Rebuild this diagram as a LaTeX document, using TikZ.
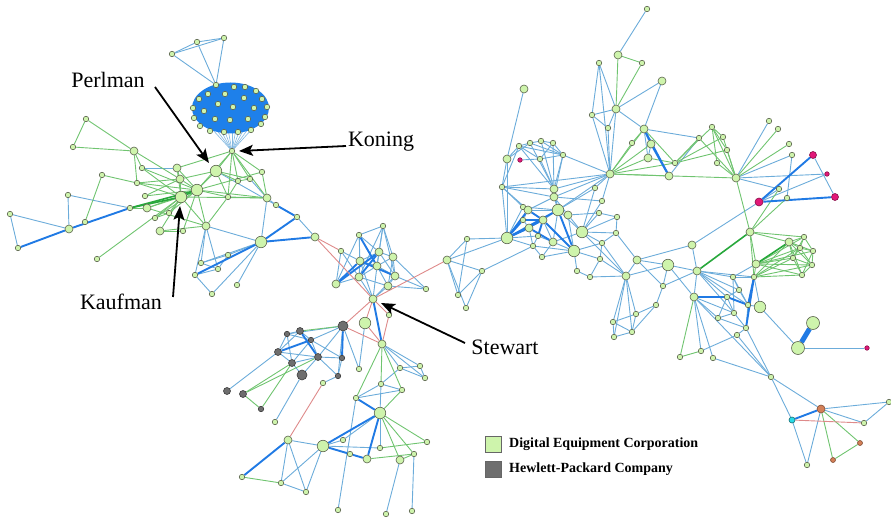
\documentclass[tikz,border=0pt]{standalone}
\usepackage{fontspec}
\setmainfont{Liberation Serif}
\usetikzlibrary{arrows.meta}
\pgfdeclarelayer{edges}
\pgfsetlayers{edges,main}
\definecolor{nodefill}{RGB}{206,244,172}
\definecolor{nodeline}{RGB}{92,100,78}
\definecolor{eblue}{RGB}{108,172,218}
\definecolor{dblue}{RGB}{32,122,228}
\definecolor{blobc}{RGB}{30,128,234}
\definecolor{egreen}{RGB}{112,196,112}
\definecolor{dgreen}{RGB}{40,168,60}
\definecolor{ered}{RGB}{222,138,138}
\definecolor{hpgray}{RGB}{110,110,110}
\definecolor{hpline}{RGB}{60,60,60}
\definecolor{mag}{RGB}{226,24,120}
\definecolor{orng}{RGB}{212,128,88}
\definecolor{cyn}{RGB}{40,220,232}
\begin{document}
\begin{tikzpicture}[x=1pt,y=-1pt,
  vx/.style={circle,draw=nodeline,fill=nodefill,line width=0.6pt,inner sep=0pt,minimum size=5.5pt},
  vm/.style={vx,minimum size=8pt},
  vl/.style={vx,minimum size=11.5pt},
  hpv/.style={fill=hpgray,draw=hpline},
  mgv/.style={fill=mag,draw=mag!60!black},
  orv/.style={fill=orng,draw=orng!60!black},
  cyv/.style={fill=cyn,draw=cyn!50!black},
  eb/.style={draw=eblue,line width=0.9pt},
  ebt/.style={draw=dblue,line width=1.9pt},
  eg/.style={draw=egreen,line width=0.9pt},
  egt/.style={draw=dgreen,line width=1.6pt},
  er/.style={draw=ered,line width=0.9pt},
  fanline/.style={draw=eblue!85!white,line width=0.6pt},
  lbl/.style={font=\fontsize{22}{26}\selectfont,inner sep=0pt},
  pointer/.style={draw=black,line width=1.8pt,-{Stealth[length=14pt,width=11pt,inset=3pt]}},
  legsq/.style={draw=black!60,line width=0.8pt,minimum size=16pt,inner sep=0pt},
  legtxt/.style={font=\bfseries\fontsize{14}{16}\selectfont,anchor=west,inner sep=0pt}
]
\useasboundingbox (0,0) rectangle (891,518);

% ---------- vertices ----------
\foreach \n/\x/\y in {
 t1/172/54, t2/197/42, t3/224/38, t4/216/85,
 b1/234/87, b2/245/87, b3/256/91, b4/262/99, b5/267/107, b6/265/117, b7/261/124,
 b8/251/130, b9/238/132, b10/224/132, b11/210/131, b12/200/126, b13/194/118,
 b14/193/108, b15/199/99, b16/208/94, b17/225/94, b18/204/111, b19/218/104,
 b20/233/107, b21/244/98, b22/254/108, b23/248/119, b24/230/120, b25/215/119,
 kn/232/151,
 a1/86/119, a2/73/147, a4/142/168, a7/262/172, a8/250/179, a9/238/181, a10/102/175,
 a11/137/183, a15/228/197, a17/276/205, a18/68/195, a19/130/208, a21/169/213,
 a22/155/218, a23/10/214, a24/85/222, a28/183/231, a29/297/217, a32/18/248,
 a33/97/259, a34/228/255, a35/201/263, a36/218/269, a37/195/275, a38/237/285,
 a39/212/294, a40/145/196,
 m3/341/251, m4/359/235, m5/383/226, m14/426/289, m17/467/239, m18/458/295,
 m19/466/308, m20/389/315,
 l1/359/369, l2/323/383, l3/275/422, l4/400/368, l5/420/366, l6/425/378, l7/381/384,
 l8/402/390, l9/356/398, l13/343/440, l14/350/454, l16/380/448, l18/414/454,
 l19/427/442, l20/242/477, l21/281/483, l22/306/492, l23/338/510, l24/386/514, l25/412/511,
 r2/599/63, r4/592/115, r5/608/128, r6/632/143,
 p1/519/146, p2/530/143, p3/541/141, p4/553/143, p5/563/155, p6/540/159,
 q1/502/187, q4/595/188, q5/602/201, q6/523/207, q10/599/213, q11/523/220,
 q17/538/236, q18/533/246, q20/617/217, q21/616/233, q22/602/243, q23/482/271,
 q24/542/257, q25/577/271, q26/600/259, q27/590/277,
 u1/647/9, u3/642/63, u9/675/163, u10/699/138, u11/712/127, u12/723/137, u13/727/150,
 u14/717/163, u16/769/121, u17/778/129, u18/789/144, u19/792/155, u24/779/189, u25/787/198,
 v3/804/237, v4/800/248, v5/813/251, v6/793/258, v7/812/265, v8/802/275, v10/754/277,
 w4/663/286, w5/656/305, w8/636/314, w9/613/322, w10/614/337, w11/632/332,
 w13/733/277, w14/739/290, w15/727/297, w16/748/305, w18/734/313, w19/718/318,
 w20/746/328, w21/737/335, w22/701/351, w23/680/357, w24/713/358, w25/771/377,
 x3/864/423, x4/889/402, x7/807/465}
 \node[vx] (\n) at (\x,\y) {};

\foreach \n/\x/\y in {
 a3/134/151, a5/177/168, a12/180/179, a16/267/198, a20/147/208, a25/69/229,
 a26/206/226, a27/160/231, a30/315/237,
 m6/379/252, m7/393/257, m8/360/261, m9/377/266, m10/359/277, m11/336/284,
 m12/395/276, m13/388/286, st/373/299, m16/447/260, m22/382/344,
 l11/288/440, l15/367/459, l17/400/460,
 r1/524/89, r3/616/109, r7/610/174, p7/507/159,
 q2/554/189, q3/554/197, q7/528/210, q9/568/215, q12/529/228, q13/543/220, q16/553/242,
 u2/618/55, u4/662/81, u5/644/129, u6/651/144, u7/648/158, u8/669/176, u15/736/178,
 v1/750/232, v2/789/242, v9/756/264,
 w1/692/245, w2/697/271, w6/637/260, w7/626/276, w12/694/297}
 \node[vm] (\n) at (\x,\y) {};

\foreach \n/\x/\y in {
 a6/216/171, a13/197/190, a14/181/197, a31/261/242, m21/365/323, l10/380/413,
 l12/323/446, q8/558/210, q14/507/238, q15/582/232, q19/574/251, w3/668/265, w17/760/307}
 \node[vl] (\n) at (\x,\y) {};
\node[vl,minimum size=13pt] (w26) at (813,323) {};
\node[vl,minimum size=13pt] (w27) at (798,348) {};

% Hewlett-Packard vertices
\node[vm,hpv,minimum size=10pt] (h1) at (343,326) {};
\node[vm,hpv,minimum size=10pt] (h9) at (302,375) {};
\foreach \n/\x/\y in {h2/300/331, h5/278/352, h6/318/357, h8/292/363, h11/227/391, h12/243/394}
 \node[vm,hpv,minimum size=7pt] (\n) at (\x,\y) {};
\foreach \n/\x/\y in {h3/287/334, h4/311/340, h7/342/358, h10/338/376, h13/261/409}
 \node[vx,hpv] (\n) at (\x,\y) {};

% other affiliations
\node[vx,mgv,minimum size=4.5pt] (pm) at (520,160) {};
\node[vx,mgv,minimum size=7pt] (u20) at (813,155) {};
\node[vx,mgv,minimum size=4.5pt] (u21) at (827,174) {};
\node[vx,mgv,minimum size=7pt] (u22) at (835,197) {};
\node[vx,mgv,minimum size=8pt] (u23) at (759,202) {};
\node[vx,mgv,minimum size=4.5pt] (w28) at (867,348) {};
\node[vx,orv,minimum size=8pt] (x1) at (821,409) {};
\node[vx,orv,minimum size=5pt] (x5) at (860,443) {};
\node[vx,orv,minimum size=5pt] (x6) at (833,460) {};
\node[vx,cyv,minimum size=6pt] (x2) at (792,420) {};

% ---------- ties ----------
\begin{pgfonlayer}{edges}
\foreach \fx in {202,208,...,262} \draw[fanline] (kn) -- (\fx,118);
\fill[blobc] (230.5,108) ellipse [x radius=38.5, y radius=25.5];

\foreach \a/\b in {
 t1/t2, t1/t3, t2/t3, t1/t4, t2/t4, t3/t4,
 a23/a32, a23/a25, a18/a25, a18/a19, a4/a5, a16/a17, a29/a30, a16/a31, a26/a31,
 a26/a37, a26/a35, a26/a36, a31/a34, a31/a35, a31/a38, a31/a39, a35/a36, a37/a36,
 a34/a35, a8/a16, a6/a17, a37/a39, a36/a34,
 m4/m10, m4/m8, m4/m6, m4/m5, m5/m6, m5/m7, m5/m9, m5/m12, m5/m10, m6/m7, m6/m8,
 m6/m9, m6/m12, m7/m9, m7/m12, m7/m13, m8/m9, m8/m10, m9/m10, m9/m12, m9/m13,
 m10/m13, m12/m13, m11/m10, m11/m3, m14/m12, m14/m13, m14/m7, m16/m17, m16/m18,
 m16/m19, m17/m18, st/m10, st/m9, st/m13, st/m8, st/m12, m3/m8, m16/q23, m18/q23,
 m19/q23, m16/q14, m17/q14, m11/m4, m3/m10,
 h1/h4, h1/h6, h1/h10, h1/h3, h2/h3, h2/h4, h2/h5, h3/h5, h3/h4, h4/h6, h4/h7,
 h4/h8, h5/h6, h5/h8, h6/h7, h6/h8, h6/h10, h7/h10, h8/h9, h9/h6, h11/h5, h9/l3,
 l1/h1, l1/m21, h3/h8, l2/h10,
 m22/l4, m22/l5, m22/l6, l4/l5, l4/l6, l5/l6, l7/l4, l7/l8, l9/l7, l9/l8, l10/l13,
 l10/l16, l12/l13, l12/l16, l11/l12, l11/l21, l11/l22, l21/l22, l12/l22, l12/l21,
 l9/l23, l17/l24, l18/l25, l10/l7,
 q14/q1, q14/p7, q1/p7, q1/p1, p7/r1, p7/p1, p7/p2, p1/p2, p2/p3, p3/p4, p4/p5,
 p1/p5, p2/p5, p3/p5, p6/p5, p1/p6, pm/p6, p6/p4, p1/q2, p2/q2, p3/q2, p4/q2,
 p5/q2, p5/q3, p6/q2, q1/q2, q1/q6, q1/q7, q1/q3, r7/q2, r7/q1, r7/q3, r7/q4,
 r7/q5, r7/q8, r7/p5, r7/r4, r7/r2, r2/r4, r2/r3, r4/r5, r3/r5, r5/r7, q2/q3,
 q3/q8, q3/q7, q6/q7, q7/q8, q8/q9, q9/q10, q8/q13, q7/q11, q11/q12, q12/q13,
 q8/q15, q9/q15, q15/q10, q15/q20, q15/q21, q15/q16, q16/q19, q17/q18, q18/q19,
 q13/q16, q12/q18, q16/q17, q19/q25, q19/q24, q19/q26, q19/q22, q14/q18, q24/q18,
 q15/q5, q15/q4, q8/q4, q3/q5, q10/q20, q21/q22, q22/q26, q26/q27, q25/q27,
 q20/q21, q9/q19, q16/q8, q23/q18, q14/q6, q6/q8, q2/q8, q3/q9, q14/q17, q24/q16,
 q15/q22,
 q15/w7, q21/w6, q22/w7, q26/w7, q27/w7, w6/w7,
 u1/u2, r4/r3, r3/r7, u4/r3, u4/u5, r3/u5, u5/u10, u10/u8, u15/u16, u15/u19,
 u15/u24, u15/u21, u19/u25, u23/u21, u23/u24, u20/u22, u23/w1, u5/u7, u6/u7,
 w1/w2, w1/w6, w6/w3, w7/w3, w7/w8, w7/w9, w7/w10, w7/w11, w8/w9, w9/w10, w10/w11,
 w8/w11, w9/w11, w3/w2, w3/w4, w4/w5, w5/w8, w5/w11, w2/w12, w2/w13, w2/w15,
 w2/w14, w2/w18, w2/w16, w12/w18, w12/w19, w12/w22, w12/w24, w13/w14, w13/w18,
 w14/w15, w14/w16, w15/w18, w15/w19, w16/w17, w16/w20, w18/w19, w19/w20, w18/w20,
 w13/w16, w21/w20, w21/w22, w17/w27, w20/w25, w21/w25, w24/w25, w25/x2, w25/x1,
 w27/w28, x1/x3, x1/x4, x3/x4, x2/x7, x1/x7, v10/w13, v9/w13, v10/w17, w2/w4,
 w12/w25, w6/w4, w3/w12, w2/v10}
 \draw[eb] (\a) -- (\b);

\foreach \a/\b in {
 a1/a2, a1/a3, a2/a3, a3/a4, a3/a12, a10/a11, a10/a24, a11/a13, a11/a14, a11/a12,
 a12/a13, a12/a14, a5/a14, a5/a13, a5/kn, a6/kn, a13/kn, a15/kn, a9/kn, a8/kn,
 a7/kn, a16/kn, a6/a13, a6/a15, a13/a7, a13/a16, a13/a15, a14/a16, a14/a26,
 a13/a26, a19/a20, a20/a14, a20/a13, a21/a13, a21/a14, a22/a14, a27/a14,
 a27/a26, a27/a28, a33/a14, a20/a26, a22/a21, a4/a14, a4/a13, a7/a16, a8/a9,
 a9/a15, a15/a16, a3/a11, a40/a13, a40/a12, a6/a12, a6/a9, a12/a5, a6/a8,
 a22/a13, a28/a13, a15/a26,
 h12/h6, h12/h8, h13/h8, h12/h13, h2/h1,
 m22/l7, m22/l8, m22/l9, l10/l8, l10/l17, l10/l18, l10/l19, l15/l18, l16/l19,
 l17/l18, l20/l21,
 u2/u3, u2/r3, u3/r3, r6/u5, r6/r7, u7/r7, u8/r7, u9/r7, u6/r7, u5/r7, u9/u10,
 u9/u11, u9/u13, u9/u12, u10/u15, u11/u15, u12/u15, u13/u15, u14/u15, u11/u12,
 u11/u13, u11/u14, r7/u15, u15/u17, u15/u18, u15/v1, v1/u24, v1/u25, u7/u9, u5/u9,
 v1/v2, v1/v9, v1/v3, v1/v10, v9/v10, v2/v3, v2/v4, v2/v5, v2/v6, v2/v7, v2/v8,
 v3/v4, v3/v5, v4/v5, v4/v6, v4/v7, v5/v7, v6/v7, v6/v8, v7/v8, v9/v3, v9/v4,
 v9/v5, v9/v6, v9/v7, v9/v8, v10/v6, v10/v8, v10/v7, v10/v4, v3/v6, v5/v8, v2/v10,
 w12/w23, w23/w22, x1/x5, x1/x6, x5/x6}
 \draw[eg] (\a) -- (\b);

\foreach \a/\b in {a14/a13, a19/a14, a19/a13, v9/v2, v1/w2}
 \draw[egt] (\a) -- (\b);

\foreach \a/\b in {
 a32/a25, a25/a19, a17/a29, a31/a30, a31/a29, a31/a37,
 m11/m8, m11/m6, m4/m9, m8/m12, st/m22, m10/m6,
 h2/h6, h5/h4, h1/h7,
 l10/l12, l12/l14, l14/l15, l10/l15, l11/l20, l9/l10,
 q14/q11, q14/q7, q14/q13, q14/q8, q14/q12, q7/q13, q11/q13, q12/q16, q8/q19,
 q13/q19, q13/q17,
 u5/u6, u5/u8, u6/u8, u20/u23, u23/u22,
 w12/w15, w15/w16, v10/w16, v10/w20, x1/x2}
 \draw[ebt] (\a) -- (\b);
\draw[draw=dblue,line width=5pt] (w26) -- (w27);

\foreach \a/\b in {a30/m3, a30/st, st/m16, st/m20, st/m21, m20/m22, m21/m22,
 st/h1, h1/m22, l2/l11, x2/x3}
 \draw[er] (\a) -- (\b);
\end{pgfonlayer}

% ---------- names and pointers ----------
\node[lbl] (perlman) at (108,80) {Perlman};
\node[lbl] (koning) at (381,142) {Koning};
\node[lbl] (kaufman) at (121,302) {Kaufman};
\node[lbl] (stewart) at (505,347) {Stewart};
\coordinate (perlmanfrom) at (155,87);
\coordinate (perlmantip) at (209,163);
\coordinate (koningfrom) at (346,146);
\coordinate (koningtip) at (239,151);
\coordinate (kaufmanfrom) at (173,297);
\coordinate (kaufmantip) at (180,206);
\coordinate (stewartfrom) at (465,343);
\coordinate (stewarttip) at (381,303);
\draw[pointer] (perlmanfrom) -- (perlmantip);
\draw[pointer] (koningfrom) -- (koningtip);
\draw[pointer] (kaufmanfrom) -- (kaufmantip);
\draw[pointer] (stewartfrom) -- (stewarttip);

% ---------- legend ----------
\node[legsq,fill=nodefill] (lg1) at (493,444) {};
\node[legtxt] (lt1) at (509,444) {Digital Equipment Corporation};
\node[legsq,fill=hpgray] (lg2) at (493,469) {};
\node[legtxt] (lt2) at (509,469) {Hewlett-Packard Company};
\end{tikzpicture}
\end{document}
